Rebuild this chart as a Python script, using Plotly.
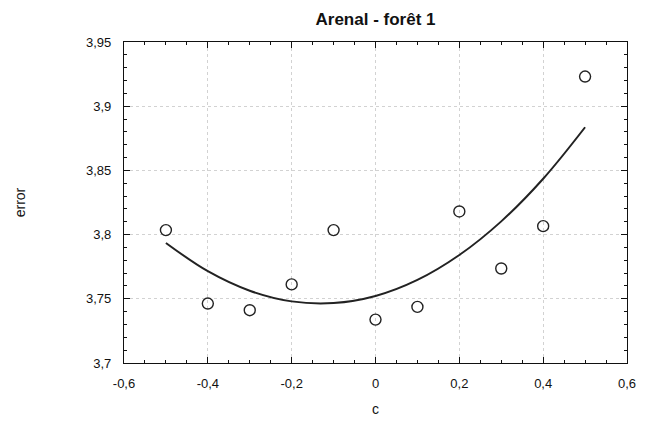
import plotly.graph_objects as go

# observed points
c_vals = [-0.5, -0.4, -0.3, -0.2, -0.1, 0.0, 0.1, 0.2, 0.3, 0.4, 0.5]
error_vals = [3.8035, 3.7463, 3.7411, 3.7612, 3.8035, 3.7338, 3.7437, 3.818, 3.7736, 3.8066, 3.9231]

# fitted curve
curve_c = [-0.5, -0.4, -0.3, -0.2, -0.1, 0.0, 0.1, 0.2, 0.3, 0.4, 0.5]
curve_err = [3.7935, 3.7715, 3.7563, 3.7480, 3.7467, 3.7522, 3.7647, 3.7841, 3.8103, 3.8435, 3.8836]

x_ticks = [-0.6, -0.4, -0.2, 0, 0.2, 0.4, 0.6]
x_ticktext = ["-0,6", "-0,4", "-0,2", "0", "0,2", "0,4", "0,6"]
y_ticks = [3.7, 3.75, 3.8, 3.85, 3.9, 3.95]
y_ticktext = ["3,7", "3,75", "3,8", "3,85", "3,9", "3,95"]

FONT = "Liberation Sans, Arial, sans-serif"

fig = go.Figure()
fig.add_trace(go.Scatter(
    x=curve_c, y=curve_err, mode="lines", line=dict(color="#222", width=2, shape="spline"),
    showlegend=False, hoverinfo="skip"))
fig.add_trace(go.Scatter(
    x=c_vals, y=error_vals, mode="markers",
    marker=dict(symbol="circle-open", size=11, color="#222", line=dict(width=1.4, color="#222")),
    showlegend=False))

axis_common = dict(
    showline=True, linecolor="#111", linewidth=1.3, mirror="ticks",
    ticks="inside", ticklen=6, tickwidth=1, tickcolor="#111",
    showgrid=True, gridcolor="#d2d2d2", griddash="dot", gridwidth=1,
    zeroline=False, automargin=False,
    tickfont=dict(family=FONT, size=13, color="#111"),
)

fig.update_xaxes(
    range=[-0.6, 0.6], tickvals=x_ticks, ticktext=x_ticktext, ticklabelstandoff=8,
    minor=dict(ticks="inside", ticklen=3, dtick=0.05, tick0=0, tickcolor="#111", showgrid=False),
    title=dict(text="c", font=dict(family=FONT, size=14, color="#111"), standoff=14),
    **axis_common)
fig.update_yaxes(
    range=[3.7, 3.95], tickvals=y_ticks, ticktext=y_ticktext, ticklabelstandoff=9,
    minor=dict(ticks="inside", ticklen=3, dtick=0.01, tick0=3.7, tickcolor="#111", showgrid=False),
    title=dict(text="error", font=dict(family=FONT, size=14, color="#111"), standoff=57),
    **axis_common)

fig.update_layout(
    width=638, height=414,
    margin=dict(l=116, r=19, t=34, b=59),
    paper_bgcolor="white", plot_bgcolor="white",
    title=dict(text="<b>Arenal - forêt 1</b>", x=0.5, xref="paper", xanchor="center",
               y=0.973, yref="container", yanchor="middle",
               font=dict(family=FONT, size=17, color="#111")),
)

fig.write_html("out.html")
